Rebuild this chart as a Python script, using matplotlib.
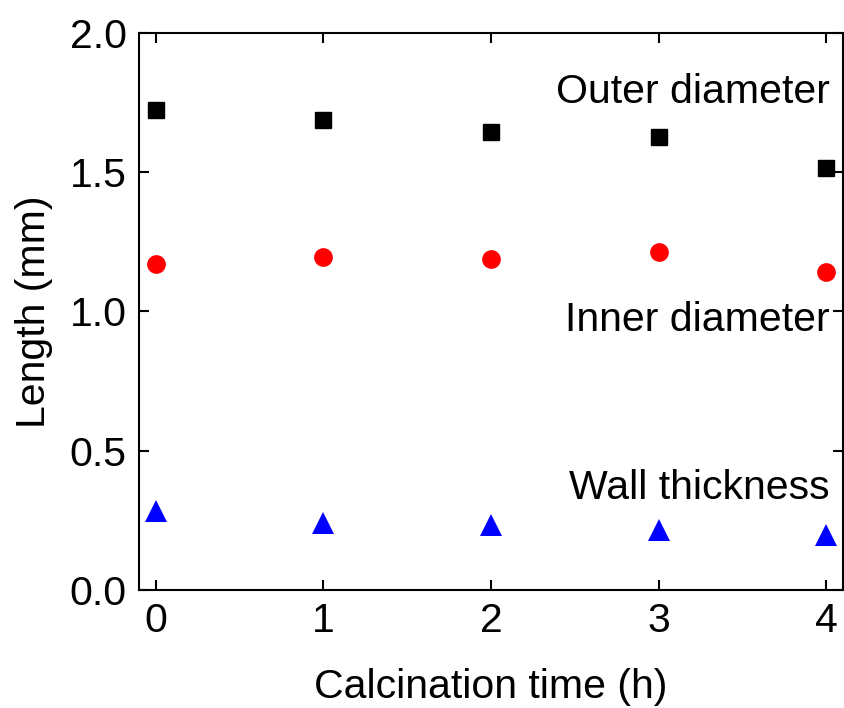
import matplotlib
matplotlib.use("Agg")
import matplotlib.pyplot as plt

plt.rcParams['font.family'] = ['Liberation Sans', 'DejaVu Sans']

time_h = [0, 1, 2, 3, 4]
outer_d = [1.724, 1.688, 1.645, 1.625, 1.514]
inner_d = [1.171, 1.196, 1.188, 1.213, 1.142]
wall_t = [0.285, 0.241, 0.233, 0.215, 0.197]

fig = plt.figure(figsize=(8.45, 7.08), dpi=100)
ax = fig.add_axes([0.1645, 0.1667, 0.8331, 0.7867])

ax.plot(time_h, outer_d, 's', color='black', markersize=11.5, linestyle='none')
ax.plot(time_h, inner_d, 'o', color='red', markersize=13.5, markeredgewidth=0, linestyle='none')
ax.plot(time_h, wall_t, '^', color='blue', markersize=15.5, markeredgewidth=0, linestyle='none')

fs = 29.5
ax.text(4.02, 1.788, 'Outer diameter', ha='right', va='center', fontsize=fs)
ax.text(4.02, 0.969, 'Inner diameter', ha='right', va='center', fontsize=fs)
ax.text(4.02, 0.366, 'Wall thickness', ha='right', va='center', fontsize=fs)

ax.set_xlim(-0.1, 4.1)
ax.set_ylim(0, 2.0)
ax.set_xticks(time_h)
ax.set_yticks([0.0, 0.5, 1.0, 1.5, 2.0])
ax.set_yticklabels(['0.0', '0.5', '1.0', '1.5', '2.0'])
ax.tick_params(direction='in', length=7, width=1.5, labelsize=fs, top=True, right=True, pad=9)
for s in ax.spines.values():
    s.set_linewidth(1.5)

ax.set_xlabel('Calcination time (h)', fontsize=fs, labelpad=20)
ax.set_ylabel('Length (mm)', fontsize=fs, labelpad=12)

fig.savefig('out.png', dpi=100)
